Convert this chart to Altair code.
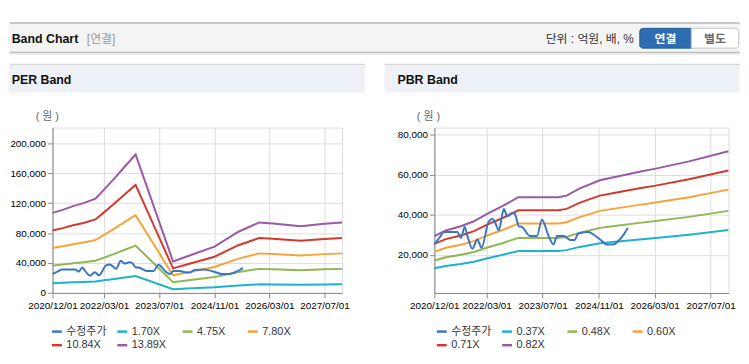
import altair as alt
import pandas as pd

FONT = "Liberation Sans, Noto Sans CJK KR"

# ---------------- data ----------------
per_series = ["수정주가", "1.70X", "4.75X", "7.80X", "10.84X", "13.89X"]
pbr_series = ["수정주가", "0.37X", "0.48X", "0.60X", "0.71X", "0.82X"]
series_colors = ["#3b76c6", "#1fb3c9", "#8fb755", "#f4a53a", "#d03a2f", "#9a58a6"]

price_dates = ["2020/12/01", "2021/01/13", "2021/02/25", "2021/06/20", "2021/07/20", "2021/08/22",
               "2021/09/15", "2021/10/28", "2021/12/10", "2022/01/15", "2022/03/20", "2022/04/20",
               "2022/05/15", "2022/06/15", "2022/07/28", "2022/08/28", "2022/10/10", "2022/11/01",
               "2022/12/06", "2023/01/01", "2023/03/15", "2023/05/12", "2023/06/25", "2023/08/22",
               "2023/10/03", "2023/11/03", "2023/12/31", "2024/02/28", "2024/04/01", "2024/05/07",
               "2024/08/03", "2024/09/15", "2024/11/12", "2025/01/10", "2025/03/03", "2025/05/01",
               "2025/06/15", "2025/07/10"]
price_values = [25200, 28500, 31400, 31400, 28500, 34000,
                29400, 23100, 27700, 23600, 36800, 37900,
                36000, 32300, 42900, 39300, 40900, 40500,
                34300, 34000, 29400, 29400, 37600, 29400,
                25200, 29400, 29400, 27400, 27400, 30700,
                31400, 30200, 27700, 25200, 25200, 27700,
                31000, 33500]

per_dates = ["2020/12/01", "2021/03/01", "2021/06/01", "2021/09/01", "2021/12/15", "2022/03/01",
             "2022/06/01", "2022/09/01", "2022/12/05", "2023/11/01", "2024/03/01", "2024/11/01",
             "2025/06/01", "2025/12/01", "2026/04/01", "2026/12/01", "2027/07/01", "2027/12/03"]
per_170 = [13100, 13600, 14200, 14700, 15400, 16900, 18700, 20700, 22600,
           5100, 6000, 7600, 10000, 11500, 11400, 10900, 11300, 11500]
per_475 = [36600, 38000, 39700, 41000, 43100, 47200, 52300, 57800, 63300,
           14400, 16700, 21200, 28000, 32200, 31800, 30500, 31600, 32200]
per_780 = [60100, 62300, 65100, 67400, 70800, 77500, 85900, 94900, 103900,
           23600, 27400, 34800, 45900, 52900, 52200, 50200, 51900, 52900]
per_1084 = [83500, 86600, 90500, 93600, 98300, 107700, 119400, 131900, 144400,
            32800, 38000, 48400, 63800, 73500, 72500, 69700, 72100, 73500]
per_1389 = [107000, 111000, 116000, 120000, 126000, 138000, 153000, 169000, 185000,
            42000, 48700, 62000, 81800, 94200, 92900, 89300, 92400, 94200]

pbr_dates = ["2020/12/01", "2021/03/10", "2021/07/20", "2021/11/10", "2022/03/01", "2022/07/28",
             "2022/12/01", "2023/11/15", "2024/01/25", "2024/05/20", "2024/11/10", "2025/03/01",
             "2025/10/20", "2026/03/10", "2026/12/25", "2027/12/03"]
pbr_037 = [13300, 14500, 15500, 16600, 18200, 20200, 22000, 22000, 22400, 24000, 25800, 26500,
           27700, 28500, 30100, 32400]
pbr_048 = [17200, 18800, 20100, 21500, 23600, 26100, 28500, 28500, 29000, 31100, 33500, 34300,
           36000, 36900, 39000, 42000]
pbr_060 = [21500, 23600, 25100, 26900, 29600, 32700, 35700, 35700, 36300, 38900, 42000, 43000,
           45000, 46200, 48800, 52600]
pbr_071 = [25500, 27900, 29700, 31900, 35000, 38700, 42300, 42300, 43000, 46100, 49600, 50800,
           53300, 54600, 57800, 62200]
pbr_082 = [29400, 32200, 34300, 36800, 40400, 44700, 48800, 48800, 49600, 53200, 57300, 58700,
           61500, 63100, 66700, 71800]

x_tick_dates = [(2020, 12), (2022, 3), (2023, 7), (2024, 11), (2026, 3), (2027, 7)]
per_y_ticks = [0, 40000, 80000, 120000, 160000, 200000]
pbr_y_ticks = [20000, 40000, 60000, 80000]


def long_df(dates, named):
    rows = []
    for name, vals in named:
        for d, v in zip(dates, vals):
            rows.append({"date": d, "value": v, "series": name})
    return pd.DataFrame(rows)


per_df = long_df(per_dates, [("1.70X", per_170), ("4.75X", per_475), ("7.80X", per_780),
                             ("10.84X", per_1084), ("13.89X", per_1389)])
pbr_df = long_df(pbr_dates, [("0.37X", pbr_037), ("0.48X", pbr_048), ("0.60X", pbr_060),
                             ("0.71X", pbr_071), ("0.82X", pbr_082)])
price_df = pd.DataFrame({"date": price_dates, "value": price_values, "series": "수정주가"})

# ---------------- layout (page pixels) ----------------
PER_LEFT, PLOT_TOP = 54.3, 128.3
PER_W, PLOT_H = 292.7, 167.2
PBR_LEFT, PBR_W = 440.0, 297.3
EDGE = 10  # first page pixel covered by the drawing


def rx(px):
    return px - PER_LEFT


def ry(py):
    return py - PLOT_TOP


one = alt.Data(values=[{}])


def rect(x1, x2, y1, y2, **kw):
    return alt.Chart(one).mark_rect(**kw).encode(
        x=alt.value(rx(x1)), x2=alt.value(rx(x2)), y=alt.value(ry(y1)), y2=alt.value(ry(y2)))


def hline(x1, x2, y, color, w=1):
    return alt.Chart(one).mark_rule(color=color, strokeWidth=w).encode(
        x=alt.value(rx(x1)), x2=alt.value(rx(x2)), y=alt.value(ry(y)))


def label(txt, x, y, **kw):
    base = dict(font=FONT, baseline="middle")
    base.update(kw)
    return alt.Chart(one).mark_text(text=txt, **base).encode(
        x=alt.value(rx(x)), y=alt.value(ry(y)))


decor = [
    rect(EDGE, 749, EDGE, 351, fill="#ffffff", opacity=0),
    rect(EDGE, 749, 22, 52, fill="#f4f4f4"),
    hline(EDGE + 1, 749, 22.5, "#b8b8b8", 1.5),
    hline(EDGE + 1, 749, 52.5, "#bdbdbd", 1.5),
    hline(EDGE + 1, 749, 54, "#e6e6e6", 1.5),
    rect(EDGE, 370, 64, 93, fill="#eef1f6"),
    rect(390, 749, 64, 93, fill="#eef1f6"),
    hline(EDGE + 1, 370, 64.5, "#d8d8d8", 1.2),
    hline(390, 749, 64.5, "#d8d8d8", 1.2),
    label("Band Chart", 13, 38.5, fontSize=12.5, fontWeight="bold", color="#111", align="left"),
    label("[연결]", 89, 38.5, fontSize=12, color="#999999", align="left"),
    label("단위 : 억원, 배, %", 642, 39, fontSize=12, color="#333333", align="right"),
    rect(648, 700, 28, 48, fill="#2f6db3", stroke="#275c98", strokeWidth=1,
         cornerRadiusTopLeft=3, cornerRadiusBottomLeft=3),
    rect(700, 748, 28, 48, fill="#ffffff", stroke="#c4c4c4", strokeWidth=1,
         cornerRadiusTopRight=3, cornerRadiusBottomRight=3),
    label("연결", 674, 38.5, fontSize=12, fontWeight="bold", color="#ffffff", align="center"),
    label("별도", 724, 38.5, fontSize=12, fontWeight="bold", color="#666666", align="center"),
    label("PER Band", 13, 80, fontSize=12.5, fontWeight="bold", color="#111", align="left"),
    label("PBR Band", 403, 80, fontSize=12.5, fontWeight="bold", color="#111", align="left"),
    label("( 원 )", 49, 118, fontSize=11, color="#666666", align="center"),
]

x_domain = [alt.DateTime(year=2020, month=12, date=1), alt.DateTime(year=2027, month=12, date=3)]
x_values = [alt.DateTime(year=y, month=m, date=1) for y, m in x_tick_dates]


def panel(band_df, series, ydomain, yticks, legend_x, width, extra):
    x = alt.X("date:T", scale=alt.Scale(domain=x_domain),
              axis=alt.Axis(values=x_values, format="%Y/%m/%d", title=None, labelOverlap=False,
                            labelFlush=False, labelPadding=3))
    y = alt.Y("value:Q", scale=alt.Scale(domain=ydomain, nice=False, zero=False),
              axis=alt.Axis(values=yticks, format=",d", title=None, labelPadding=2))
    color = alt.Color("series:N", scale=alt.Scale(domain=series, range=series_colors),
                      legend=alt.Legend(orient="none", legendX=legend_x, legendY=199.5,
                                        direction="horizontal", columns=4, title=None,
                                        symbolType="stroke", symbolSize=100, symbolStrokeWidth=2.5,
                                        labelFont=FONT, labelFontSize=11, labelColor="#333333",
                                        columnPadding=5, rowPadding=2, gridAlign="all",
                                        labelOffset=3))
    bands = alt.Chart(band_df).mark_line(strokeWidth=2).encode(x=x, y=y, color=color)
    price = alt.Chart(price_df).mark_line(strokeWidth=2, interpolate="monotone").encode(
        x=x, y=y, color=color)
    return alt.layer(*extra, bands, price).properties(width=width, height=PLOT_H)


left = panel(per_df, per_series, [0, 221000], per_y_ticks, -2, PER_W, decor)
pbr_unit = alt.Chart(one).mark_text(text="( 원 )", font=FONT, fontSize=11, color="#666666",
                                    baseline="middle", align="center").encode(
    x=alt.value(-6), y=alt.value(118 - PLOT_TOP))
right = panel(pbr_df, pbr_series, [1000, 83600], pbr_y_ticks, 1, PBR_W, [pbr_unit])

chart = alt.hconcat(left, right, spacing=PBR_LEFT - (PER_LEFT + PER_W), bounds="flush").resolve_scale(
    x="independent", y="independent", color="independent"
).resolve_legend(color="independent").properties(padding=0).configure_view(
    stroke="#b0b0b0", strokeWidth=1
).configure_axis(
    labelFont=FONT, labelFontSize=9, labelColor="#555555", tickColor="#b0b0b0", tickSize=5,
    domainColor="#b0b0b0", gridColor="#e6e6e6", gridWidth=1
).configure(background="white")

chart.save("out.html", embed_options={"renderer": "svg", "actions": False})
